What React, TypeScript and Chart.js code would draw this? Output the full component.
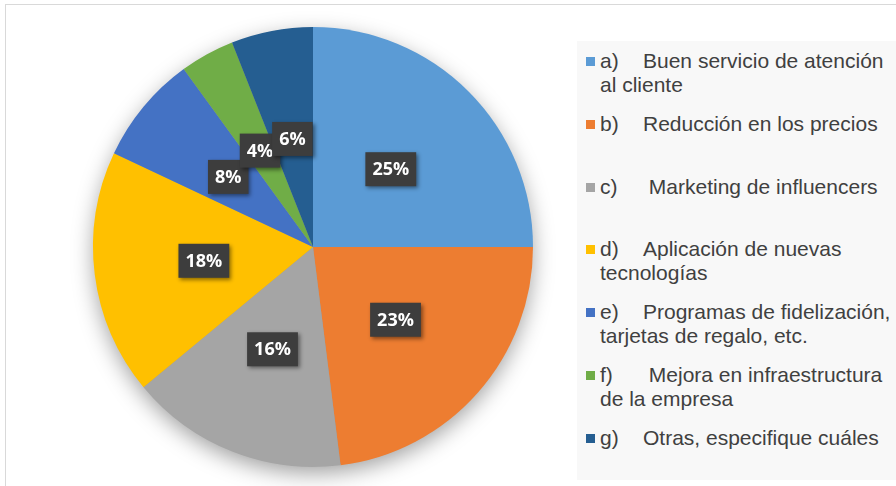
import React, { useEffect, useRef } from "react";
import { Chart, registerables } from "chart.js";

Chart.register(...registerables);

const letters = ["a)", "b)", "c)", "d)", "e)", "f)", "g)"];
const categories: string[][] = [
  ["Buen servicio de atención", "al cliente"],
  ["Reducción en los precios"],
  ["\u00a0Marketing de influencers"],
  ["Aplicación de nuevas", "tecnologías"],
  ["Programas de fidelización,", "tarjetas de regalo, etc."],
  ["\u00a0Mejora en infraestructura", "de la empresa"],
  ["Otras, especifique cuáles"],
];
const values = [25, 23, 16, 18, 8, 4, 6];
const colors = ["#5B9BD5", "#ED7D31", "#A5A5A5", "#FFC000", "#4472C4", "#70AD47", "#255E91"];

const shadowPlugin = {
  id: "pieShadow",
  beforeDatasetsDraw(chart: any) {
    const arc = chart.getDatasetMeta(0).data[0];
    if (!arc) return;
    const { x, y, outerRadius } = arc.getProps(["x", "y", "outerRadius"], true);
    const ctx = chart.ctx;
    ctx.save();
    ctx.shadowColor = "rgba(0,0,0,0.38)";
    ctx.shadowBlur = 22;
    ctx.shadowOffsetX = 0;
    ctx.shadowOffsetY = 7;
    ctx.beginPath();
    ctx.arc(x, y, outerRadius - 1, 0, Math.PI * 2);
    ctx.fillStyle = "#999";
    ctx.fill();
    ctx.restore();
  },
};

const labelPlugin = {
  id: "pctLabels",
  afterDatasetsDraw(chart: any) {
    const meta = chart.getDatasetMeta(0);
    const data = chart.data.datasets[0].data as number[];
    const total = data.reduce((a, b) => a + b, 0);
    const ctx = chart.ctx;
    ctx.save();
    ctx.font = "bold 18px 'Open Sans', 'Noto Sans', sans-serif";
    ctx.textAlign = "center";
    ctx.textBaseline = "middle";
    meta.data.forEach((arc: any, i: number) => {
      const p = arc.getProps(["x", "y", "startAngle", "endAngle", "outerRadius"], true);
      const mid = (p.startAngle + p.endAngle) / 2;
      const r = p.outerRadius * 0.5;
      const cx = p.x + Math.cos(mid) * r;
      const cy = p.y + Math.sin(mid) * r;
      const text = Math.round((data[i] / total) * 100) + "%";
      const w = ctx.measureText(text).width + 14;
      const h = 34;
      ctx.save();
      ctx.shadowColor = "rgba(0,0,0,0.45)";
      ctx.shadowBlur = 4;
      ctx.shadowOffsetX = 2;
      ctx.shadowOffsetY = 2;
      ctx.fillStyle = "#3d3d3d";
      ctx.fillRect(cx - w / 2, cy - h / 2, w, h);
      ctx.restore();
      ctx.fillStyle = "#ffffff";
      ctx.fillText(text, cx, cy + 1);
    });
    ctx.restore();
  },
};

export default function App() {
  const canvasRef = useRef<HTMLCanvasElement | null>(null);

  useEffect(() => {
    if (!canvasRef.current) return;
    const chart = new Chart(canvasRef.current, {
      type: "pie",
      data: {
        labels: categories.map((c, i) => letters[i] + " " + c.join(" ")),
        datasets: [
          {
            data: values,
            backgroundColor: colors,
            borderWidth: 0,
            hoverOffset: 0,
            offset: 0,
          },
        ],
      },
      options: {
        animation: false,
        responsive: false,
        maintainAspectRatio: false,
        layout: { padding: { left: 40, right: 40, top: 27, bottom: 19 } },
        plugins: {
          legend: { display: false },
          tooltip: { enabled: false },
        },
      },
      plugins: [shadowPlugin, labelPlugin],
    });
    return () => chart.destroy();
  }, []);

  const slot = 62.8;
  return (
    <div
      style={{
        position: "absolute",
        left: 0,
        top: 0,
        width: 896,
        height: 486,
        overflow: "hidden",
        background: "#ffffff",
      }}
    >
      <div
        style={{
          position: "absolute",
          left: 5,
          top: 4,
          width: 1000,
          height: 600,
          border: "1px solid #d9d9d9",
        }}
      />
      <canvas
        ref={canvasRef}
        width={520}
        height={486}
        style={{ position: "absolute", left: 53, top: 0, width: 520, height: 486 }}
      />
      <div
        style={{
          position: "absolute",
          left: 577,
          top: 41,
          width: 330,
          height: 439,
          background: "#f8f8f8",
        }}
      />
      {categories.map((lines, i) => {
        const top = 49 + i * slot;
        return (
          <React.Fragment key={i}>
            <div
              style={{
                position: "absolute",
                left: 586,
                top: top + 8,
                width: 9,
                height: 9,
                background: colors[i],
              }}
            />
            <div
              style={{
                position: "absolute",
                left: 600,
                top: top,
                font: "21px 'Liberation Sans', Arial, sans-serif",
                lineHeight: "24px",
                color: "#404040",
                whiteSpace: "nowrap",
              }}
            >
              <span style={{ display: "inline-block", width: 43 }}>{letters[i]}</span>
              {lines[0]}
              {lines.slice(1).map((l, j) => (
                <div key={j}>{l}</div>
              ))}
            </div>
          </React.Fragment>
        );
      })}
    </div>
  );
}
